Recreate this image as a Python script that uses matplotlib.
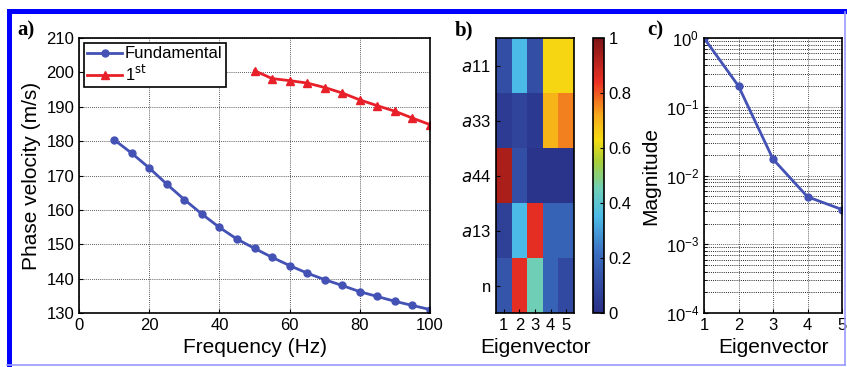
import numpy as np
import matplotlib
matplotlib.use('Agg')
import matplotlib.pyplot as plt
from matplotlib.patches import Rectangle
from matplotlib.colors import LinearSegmentedColormap
from matplotlib.ticker import LogLocator, NullFormatter

# panel a data
freq_fund = [10, 15, 20, 25, 30, 35, 40, 45, 50, 55, 60, 65, 70, 75, 80, 85, 90, 95, 100]
vel_fund = [180.4, 176.5, 172.2, 167.5, 163.0, 158.8, 154.9, 151.5, 148.8, 146.2,
            143.8, 141.6, 139.7, 138.0, 136.2, 134.8, 133.4, 132.2, 131.0]
freq_1st = [50, 55, 60, 65, 70, 75, 80, 85, 90, 95, 100]
vel_1st = [200.5, 198.2, 197.6, 196.9, 195.6, 194.0, 192.0, 190.3, 188.7, 186.7, 184.8]

# panel b data
row_labels = ['$a$11', '$a$33', '$a$44', '$a$13', 'n']
col_labels = ['1', '2', '3', '4', '5']
eig_matrix = [
    [0.12, 0.35, 0.12, 0.64, 0.64],
    [0.05, 0.08, 0.04, 0.70, 0.76],
    [0.93, 0.12, 0.02, 0.02, 0.02],
    [0.07, 0.35, 0.85, 0.18, 0.18],
    [0.14, 0.85, 0.45, 0.18, 0.10],
]

# panel c data
eig_idx = [1, 2, 3, 4, 5]
magnitude = [1.0, 0.2, 0.0173, 0.0049, 0.0032]

# washed-out jet, as it looks in the scan
soft_jet = LinearSegmentedColormap.from_list('soft_jet', [
    (0.00, '#2a2f86'), (0.12, '#3350a6'), (0.22, '#3b70c2'), (0.35, '#4cbbe8'),
    (0.45, '#6ecfb8'), (0.55, '#a6cf3a'), (0.63, '#f6dc12'), (0.72, '#f7aa1c'),
    (0.84, '#ec3024'), (1.00, '#7d1416')])

W, H = 847, 367
fig = plt.figure(figsize=(W / 100, H / 100), dpi=100)
plt.rcParams['font.family'] = ['Liberation Sans', 'DejaVu Sans']

def box(x0, y0, x1, y1):
    # pixel box (top-left origin) -> figure fraction
    return [x0 / W, 1 - y1 / H, (x1 - x0) / W, (y1 - y0) / H]

blue = '#4352b4'
red = '#e8202a'
gridkw = dict(color='#222222', linestyle=(0, (1, 1.5)), linewidth=0.6)

# ---- a)
ax1 = fig.add_axes(box(79, 38, 430, 313))
ax1.plot(freq_fund, vel_fund, '-o', color=blue, lw=2, ms=5, label='Fundamental')
ax1.plot(freq_1st, vel_1st, '-^', color=red, lw=2, ms=6, label='1$^{\\mathrm{st}}$')
ax1.set_xlim(0, 100)
ax1.set_ylim(130, 210)
ax1.set_xticks(np.arange(0, 101, 20))
ax1.set_yticks(np.arange(130, 211, 10))
ax1.grid(True, **gridkw)
ax1.tick_params(labelsize=12, direction='in', length=3)
ax1.set_xlabel('Frequency (Hz)', fontsize=15, labelpad=4)
ax1.set_ylabel('Phase velocity (m/s)', fontsize=15, labelpad=4)
leg = ax1.legend(loc='upper left', fontsize=12, handlelength=2.1, borderaxespad=0.3,
                 fancybox=False, framealpha=1, edgecolor='k', borderpad=0.2,
                 labelspacing=0.15, handletextpad=0.15)
leg.get_frame().set_linewidth(1.2)
for s in ax1.spines.values():
    s.set_linewidth(1.2)

# ---- b)
ax2 = fig.add_axes(box(496, 38, 574, 313))
im = ax2.imshow(eig_matrix, cmap=soft_jet, vmin=0, vmax=1, aspect='auto')
ax2.set_xticks(range(len(col_labels)))
ax2.set_xticklabels(col_labels)
ax2.set_yticks(range(len(row_labels)))
ax2.set_yticklabels(row_labels)
ax2.tick_params(labelsize=12, direction='in', length=3)
ax2.set_xlabel('Eigenvector', fontsize=15, labelpad=4)
for s in ax2.spines.values():
    s.set_linewidth(1.2)

cax = fig.add_axes(box(593, 38, 604, 313))
cb = fig.colorbar(im, cax=cax, ticks=[0, 0.2, 0.4, 0.6, 0.8, 1])
cb.ax.set_yticklabels(['0', '0.2', '0.4', '0.6', '0.8', '1'])
cb.ax.tick_params(labelsize=12, direction='in', length=3)
cb.outline.set_linewidth(1.2)

# ---- c)
ax3 = fig.add_axes(box(704, 38, 842, 313))
ax3.semilogy(eig_idx, magnitude, '-o', color=blue, lw=2, ms=5)
ax3.set_xlim(1, 5)
ax3.set_ylim(1e-4, 1)
ax3.set_xticks(eig_idx)
ax3.yaxis.set_major_locator(LogLocator(base=10, numticks=10))
ax3.yaxis.set_minor_locator(LogLocator(base=10, subs=np.arange(2, 10), numticks=10))
ax3.yaxis.set_minor_formatter(NullFormatter())
ax3.grid(True, which='major', **gridkw)
ax3.grid(True, which='minor', color='#222222', linestyle=(0, (1, 1.2)), linewidth=0.7)
ax3.tick_params(labelsize=12, direction='in', length=3)
ax3.tick_params(which='minor', direction='in', length=2)
ax3.set_xlabel('Eigenvector', fontsize=15, labelpad=4)
ax3.set_ylabel('Magnitude', fontsize=15, labelpad=4)
for s in ax3.spines.values():
    s.set_linewidth(1.2)

# panel letters
for x, lab in [(17, 'a)'), (455, 'b)'), (647, 'c)')]:
    fig.text(x / W, 1 - 30 / H, lab, fontsize=15, fontweight='bold',
             family='Liberation Serif', va='center', ha='left')

# blue frame
fig.add_artist(Rectangle((7 / W, 0), 5 / W, 1 - 9.5 / H, transform=fig.transFigure,
                         color='#0000ff', lw=0))
fig.add_artist(Rectangle((7 / W, 1 - 14 / H), 1 - 7 / W, 4.5 / H, transform=fig.transFigure,
                         color='#0000ff', lw=0))
fig.add_artist(plt.Line2D([7 / W, 845 / W], [2 / H, 2 / H], transform=fig.transFigure,
                          color='#9999ff', lw=1.2))
fig.add_artist(plt.Line2D([845 / W, 845 / W], [2 / H, 1 - 12 / H], transform=fig.transFigure,
                          color='#9999ff', lw=1.2))

fig.savefig('out.png', dpi=100)
